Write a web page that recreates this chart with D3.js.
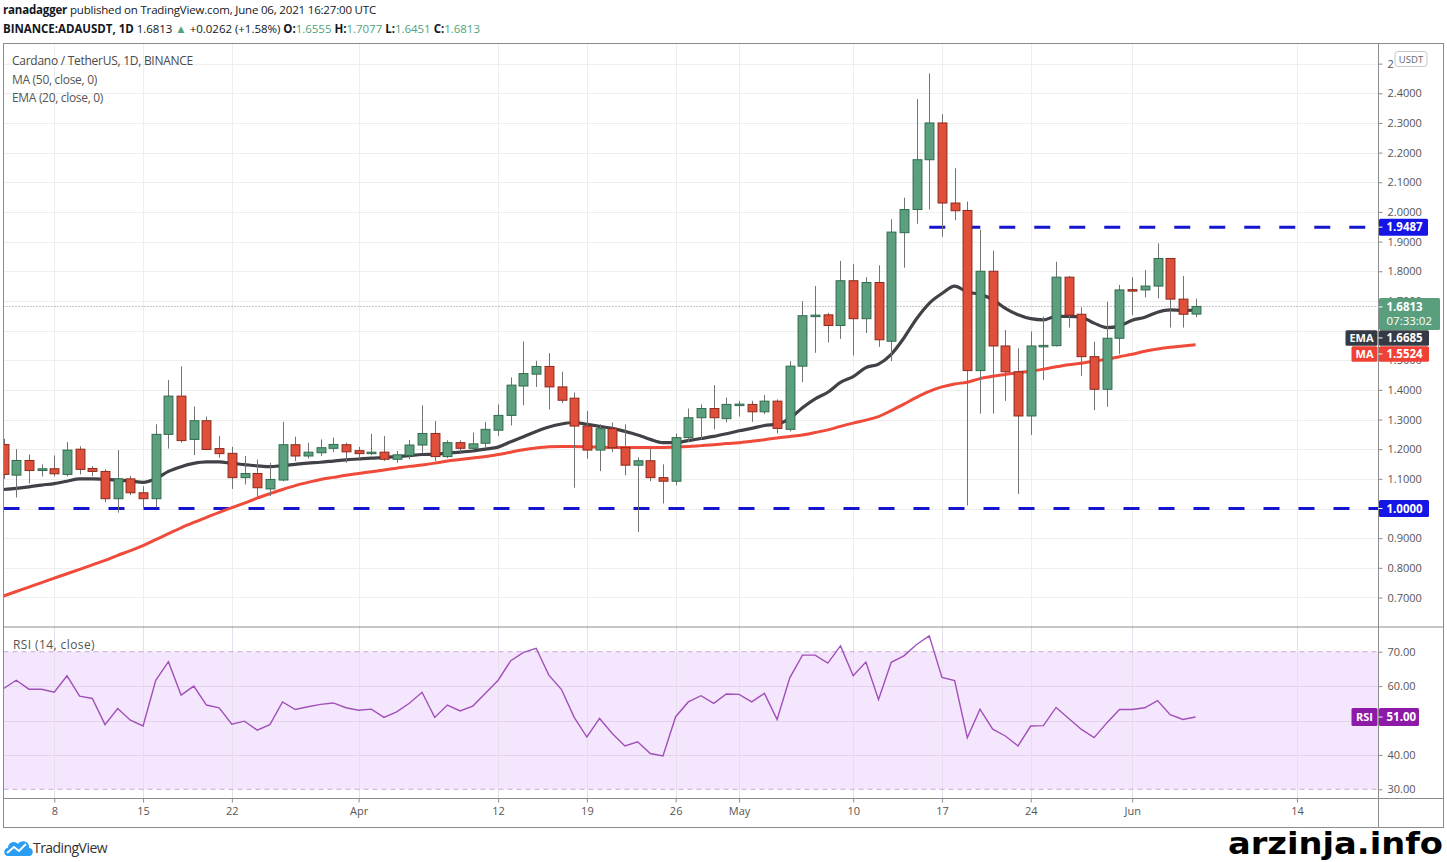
<!DOCTYPE html>
<html><head><meta charset="utf-8">
<script src="https://cdn.jsdelivr.net/npm/d3@7"></script>
<style>
body{margin:0;background:#fff;}
svg{display:block;font-family:"Open Sans","Noto Sans",sans-serif;}
</style>
</head><body>
<svg id="c" width="1447" height="862"></svg>
<script>
// ---------------- DATA ----------------
const firstDay = "2021-03-04";
const openV  = [1.216,1.1125,1.162,1.128,1.134,1.115,1.200,1.135,1.125,1.033,1.100,1.053,1.033,1.25,1.379,1.233,1.296,1.202,1.186,1.104,
                1.118,1.066,1.096,1.215,1.177,1.188,1.203,1.215,1.195,1.185,1.19,1.166,1.179,1.214,1.253,1.175,1.222,1.203,1.22,1.264,
                1.314,1.413,1.453,1.479,1.41,1.372,1.278,1.197,1.269,1.205,1.146,1.161,1.104,1.092,1.239,1.306,1.337,1.303,1.350,1.351,
                1.326,1.362,1.267,1.48,1.648,1.653,1.617,1.768,1.64,1.762,1.564,1.93,2.008,2.176,2.30,2.03,2.005,1.465,1.80,1.548,
                1.461,1.312,1.548,1.549,1.78,1.655,1.512,1.402,1.574,1.738,1.737,1.75,1.843,1.706,1.6555];
const highV  = [1.235,1.20,1.182,1.149,1.179,1.224,1.21,1.143,1.132,1.197,1.11,1.075,1.284,1.433,1.479,1.344,1.31,1.244,1.208,1.177,
                1.165,1.154,1.292,1.242,1.222,1.233,1.239,1.222,1.208,1.252,1.244,1.194,1.231,1.348,1.295,1.23,1.23,1.256,1.292,1.351,
                1.442,1.563,1.498,1.524,1.461,1.391,1.329,1.284,1.29,1.284,1.173,1.202,1.149,1.253,1.337,1.351,1.416,1.374,1.363,1.363,
                1.383,1.368,1.497,1.699,1.75,1.66,1.835,1.825,1.78,1.82,1.975,2.048,2.38,2.467,2.33,2.147,2.035,1.94,1.869,1.602,
                1.54,1.597,1.647,1.832,1.784,1.678,1.562,1.697,1.754,1.78,1.804,1.894,1.843,1.784,1.7077];
const lowV   = [1.10,1.037,1.084,1.108,1.108,1.108,1.115,1.109,1.021,0.986,1.045,1.003,1.003,1.202,1.222,1.18,1.197,1.171,1.066,1.081,
                1.036,1.042,1.092,1.16,1.168,1.177,1.19,1.154,1.168,1.18,1.16,1.154,1.166,1.188,1.16,1.17,1.19,1.197,1.205,1.244,
                1.28,1.348,1.41,1.334,1.355,1.07,1.168,1.126,1.19,1.112,0.921,1.092,1.017,1.078,1.224,1.233,1.267,1.29,1.31,1.292,
                1.318,1.253,1.26,1.426,1.525,1.56,1.572,1.516,1.592,1.545,1.497,1.812,1.96,2.008,1.916,1.972,1.01,1.32,1.32,1.363,
                1.049,1.248,1.433,1.546,1.61,1.447,1.332,1.343,1.52,1.652,1.712,1.709,1.61,1.61,1.6451];
const closeV = [1.115,1.162,1.128,1.134,1.117,1.197,1.132,1.125,1.033,1.100,1.053,1.033,1.25,1.379,1.229,1.296,1.199,1.185,1.104,1.118,
                1.07,1.098,1.215,1.177,1.19,1.205,1.216,1.191,1.185,1.19,1.166,1.181,1.214,1.253,1.175,1.222,1.203,1.218,1.267,1.314,
                1.416,1.455,1.479,1.41,1.365,1.278,1.197,1.269,1.205,1.146,1.161,1.104,1.092,1.239,1.306,1.337,1.306,1.351,1.352,1.326,
                1.362,1.27,1.48,1.65,1.652,1.617,1.768,1.64,1.762,1.569,1.932,2.008,2.176,2.30,2.03,2.004,1.465,1.80,1.548,1.461,
                1.312,1.548,1.550,1.78,1.652,1.512,1.402,1.574,1.737,1.735,1.75,1.843,1.706,1.655,1.6813];
const ema20  = [1.064,1.068,1.073,1.079,1.084,1.092,1.100,1.100,1.098,1.096,1.093,1.088,1.100,1.125,1.141,1.152,1.157,1.157,1.152,1.148,
                1.144,1.141,1.145,1.149,1.153,1.156,1.160,1.164,1.167,1.170,1.172,1.175,1.178,1.182,1.183,1.187,1.190,1.194,1.200,1.207,
                1.225,1.242,1.260,1.275,1.285,1.290,1.284,1.277,1.270,1.260,1.248,1.233,1.222,1.222,1.229,1.236,1.243,1.252,1.262,1.270,
                1.280,1.284,1.304,1.340,1.370,1.392,1.425,1.445,1.475,1.487,1.520,1.575,1.640,1.692,1.725,1.750,1.730,1.722,1.705,1.675,
                1.653,1.640,1.636,1.648,1.648,1.645,1.625,1.610,1.615,1.635,1.645,1.662,1.670,1.668,1.6685];
const ma50   = [0.705,0.720,0.735,0.750,0.765,0.780,0.795,0.810,0.825,0.842,0.858,0.875,0.895,0.915,0.935,0.953,0.970,0.987,1.003,1.018,
                1.035,1.050,1.064,1.077,1.088,1.098,1.105,1.112,1.118,1.124,1.130,1.136,1.142,1.147,1.153,1.160,1.165,1.170,1.175,1.182,
                1.190,1.198,1.204,1.208,1.209,1.209,1.208,1.207,1.206,1.206,1.206,1.206,1.206,1.207,1.209,1.212,1.215,1.219,1.222,1.227,
                1.232,1.238,1.243,1.248,1.256,1.265,1.277,1.288,1.298,1.310,1.330,1.352,1.375,1.395,1.410,1.420,1.426,1.438,1.446,1.452,
                1.458,1.463,1.470,1.478,1.485,1.490,1.497,1.503,1.512,1.520,1.530,1.538,1.544,1.548,1.5524];
const rsi14  = [59.3,61.7,59.1,59.1,58.2,63.0,57.1,56.4,48.8,53.5,50.1,48.4,61.7,67.1,57.4,60.0,54.5,53.7,48.9,49.8,
                47.2,48.8,55.4,53.2,54.0,54.7,55.1,53.7,53.0,53.3,50.9,52.5,55.0,58.2,50.9,54.5,52.8,54.2,57.9,61.7,
                67.4,69.8,71.0,63.2,59.0,50.9,45.2,50.6,46.2,42.6,43.8,40.4,39.7,51.1,55.4,57.2,55.0,57.7,57.6,55.4,
                57.9,50.3,62.4,69.0,69.0,66.7,71.7,63.0,67.0,56.1,66.9,68.8,72.1,74.6,62.5,61.6,45.0,53.3,47.5,45.5,
                42.6,48.4,48.5,53.8,50.6,47.4,45.0,49.3,53.2,53.2,53.7,55.8,51.7,50.3,51.0];
const priceTicks = [0.7,0.8,0.9,1.0,1.1,1.2,1.3,1.4,1.5,1.6,1.7,1.8,1.9,2.0,2.1,2.2,2.3,2.4,2.5];
const priceTickLabels = [0.7,0.8,0.9,1.1,1.2,1.3,1.4,1.5,1.7,1.8,1.9,2.0,2.1,2.2,2.3,2.4,2.5]; // 1.0 / 1.6 hidden behind value boxes
const rsiGrid = [40,50,60];
const rsiTickLabels = [30,40,60,70];
const dateTicks = ["2021-03-08","2021-03-15","2021-03-22","2021-04-01","2021-04-12","2021-04-19","2021-04-26",
                   "2021-05-01","2021-05-10","2021-05-17","2021-05-24","2021-06-01","2021-06-14"];
const dateTickLabels = ["8","15","22","Apr","12","19","26","May","10","17","24","Jun","14"];
const levelLines = [{v:1.0, from:"2021-03-01"},{v:1.9487, from:"2021-05-16"}];
const lastClose = 1.6813, lastEma = 1.6685, lastMa = 1.5524, lastRsi = 51.00;

// ---------------- LAYOUT ----------------
const svg = d3.select("#c");
const L = 3.5, R = 1378.5, OR = 1443.5, T = 43.5, MB = 627, RB = 798.5, OB = 827.5;
const parse = d3.utcParse("%Y-%m-%d");
const t0 = parse(firstDay);
const dates = openV.map((_, i) => d3.utcDay.offset(t0, i));

const x = d3.scaleUtc().domain([parse("2021-03-08"), parse("2021-06-14")]).range([54.3, 1297]);
const y = d3.scaleLinear().domain([1.0, 2.4]).range([508.5, 93.3]);
const yR = d3.scaleLinear().domain([30, 70]).range([789.3, 651.7]);
const step = x(parse("2021-03-09")) - x(parse("2021-03-08"));
const bw = step * 0.7;

function fit(sel, target){
  const n = sel.node(); const len = n.getComputedTextLength(); const c = n.textContent.length;
  if (c > 1) sel.attr("letter-spacing", ((target - len) / c).toFixed(3));
}

const defs = svg.append("defs");
defs.append("clipPath").attr("id","cm").append("rect").attr("x",L).attr("y",T).attr("width",R-L).attr("height",MB-T);
defs.append("clipPath").attr("id","cr").append("rect").attr("x",L).attr("y",MB).attr("width",R-L).attr("height",RB-MB);

// header
const h1 = svg.append("text").attr("x",3).attr("y",14).attr("font-size",11.5).attr("fill","#131722");
h1.append("tspan").attr("font-weight","bold").text("ranadagger");
h1.append("tspan").text(" published on TradingView.com, June 06, 2021 16:27:00 UTC");
fit(h1, 373);
const h2 = svg.append("text").attr("x",3).attr("y",33).attr("font-size",11.5).attr("fill","#131722");
const gC = "#4fa37d";
h2.append("tspan").attr("font-weight","bold").text("BINANCE:ADAUSDT, 1D ");
h2.append("tspan").text("1.6813 ");
h2.append("tspan").attr("fill",gC).text("▲");
h2.append("tspan").text(" +0.0262 (+1.58%) ");
[["O:","1.6555"],["H:","1.7077"],["L:","1.6451"],["C:","1.6813"]].forEach(([k,v],i)=>{
  h2.append("tspan").attr("font-weight","bold").text((i?" ":"")+k);
  h2.append("tspan").attr("fill",gC).text(v);
});
fit(h2, 477);

// grid main
const gm = svg.append("g").attr("clip-path","url(#cm)");
gm.selectAll("line.hg").data(priceTicks).join("line")
  .attr("x1",L).attr("x2",R).attr("y1",d=>Math.round(y(d))+0.5).attr("y2",d=>Math.round(y(d))+0.5)
  .attr("stroke","#eeeeee");
gm.selectAll("line.vg").data(dateTicks).join("line")
  .attr("x1",d=>Math.round(x(parse(d)))+0.5).attr("x2",d=>Math.round(x(parse(d)))+0.5)
  .attr("y1",T).attr("y2",MB).attr("stroke","#eeeeee");

// RSI pane band and grid
const gr = svg.append("g").attr("clip-path","url(#cr)");
gr.append("rect").attr("x",L).attr("width",R-L).attr("y",yR(70)).attr("height",yR(30)-yR(70)).attr("fill","#f4e6fc");
gr.selectAll("line.rh").data(rsiGrid).join("line")
  .attr("x1",L).attr("x2",R).attr("y1",d=>Math.round(yR(d))+0.5).attr("y2",d=>Math.round(yR(d))+0.5)
  .attr("stroke","#e2d3ea");
gr.selectAll("line.rv").data(dateTicks).join("line")
  .attr("x1",d=>Math.round(x(parse(d)))+0.5).attr("x2",d=>Math.round(x(parse(d)))+0.5)
  .attr("y1",MB).attr("y2",RB).attr("stroke","#e6deec");
gr.selectAll("line.rb").data([30,70]).join("line")
  .attr("x1",L).attr("x2",R).attr("y1",d=>yR(d)).attr("y2",d=>yR(d))
  .attr("stroke","#c9aad6").attr("stroke-dasharray","5,4");

// level lines
gm.selectAll("line.lv").data(levelLines).join("line")
  .attr("x1",d=>Math.max(L,x(parse(d.from)))).attr("x2",R)
  .attr("y1",d=>y(d.v)).attr("y2",d=>y(d.v))
  .attr("stroke","#1515d0").attr("stroke-width",3).attr("stroke-dasharray","16,19");

// close dotted line
gm.append("line").attr("x1",L).attr("x2",R).attr("y1",y(lastClose)).attr("y2",y(lastClose))
  .attr("stroke","#8a8a8a").attr("stroke-dasharray","1,2");

// MA and EMA lines
const lineGen = arr => d3.line().x((d,i)=>x(dates[i])).y(d=>y(d)).curve(d3.curveMonotoneX)(arr);
gm.append("path").attr("d",lineGen(ma50)).attr("fill","none").attr("stroke","#ef4a3a").attr("stroke-width",3);
gm.append("path").attr("d",lineGen(ema20)).attr("fill","none").attr("stroke","#404248").attr("stroke-width",3.2);

// candles
const cd = dates.map((d,i)=>({d,o:openV[i],h:highV[i],l:lowV[i],c:closeV[i]}));
const cg = gm.append("g");
cg.selectAll("line.wk").data(cd).join("line")
  .attr("x1",d=>Math.round(x(d.d))+0.5).attr("x2",d=>Math.round(x(d.d))+0.5)
  .attr("y1",d=>y(d.h)).attr("y2",d=>y(d.l)).attr("stroke","#737373").attr("stroke-width",1);
cg.selectAll("rect.bd").data(cd).join("rect")
  .attr("x",d=>Math.round(x(d.d))+0.5-bw/2).attr("width",bw)
  .attr("y",d=>Math.min(y(d.o),y(d.c)))
  .attr("height",d=>Math.max(1.5,Math.abs(y(d.o)-y(d.c))))
  .attr("fill",d=>d.c>=d.o?"#5c9f7e":"#df4f3a")
  .attr("stroke",d=>d.c>=d.o?"#2f6b4c":"#8c2a1c").attr("stroke-width",1);

// RSI line
gr.append("path").attr("d",d3.line().x((d,i)=>x(dates[i])).y(d=>yR(d))(rsi14))
  .attr("fill","none").attr("stroke","#a250b9").attr("stroke-width",1.4);

// frame
const fr = svg.append("g").attr("stroke","#8c8c8c").attr("fill","none");
fr.append("rect").attr("x",L).attr("y",T).attr("width",OR-L).attr("height",OB-T);
fr.append("line").attr("x1",R).attr("x2",R).attr("y1",T).attr("y2",OB);
fr.append("line").attr("x1",L).attr("x2",OR).attr("y1",MB).attr("y2",MB);
fr.append("line").attr("x1",L).attr("x2",OR).attr("y1",RB).attr("y2",RB);

// axes
const styleAxis = g => { g.select(".domain").remove(); g.selectAll(".tick line").attr("stroke","#8c8c8c");
  g.selectAll("text").attr("fill","#555").attr("font-size",11).attr("font-family","'Open Sans','Noto Sans',sans-serif"); };
const yAxisG = svg.append("g").attr("transform",`translate(${R},0)`)
  .call(d3.axisRight(y).tickValues(priceTickLabels).tickFormat(d3.format(".4f")).tickSize(4).tickPadding(5))
  .call(styleAxis);
// top label only partly visible (behind the currency tag)
yAxisG.selectAll(".tick").filter(d=>d===2.5).select("text").text("2");
svg.append("g").attr("transform",`translate(${R},0)`)
  .call(d3.axisRight(yR).tickValues(rsiTickLabels).tickFormat(d3.format(".2f")).tickSize(4).tickPadding(5))
  .call(styleAxis);
svg.append("g").attr("transform",`translate(0,${RB})`)
  .call(d3.axisBottom(x).tickValues(dateTicks.map(parse)).tickFormat((d,i)=>dateTickLabels[i]).tickSize(4).tickPadding(5))
  .call(styleAxis);

// USDT tag
svg.append("rect").attr("x",1395).attr("y",51.5).attr("width",32).attr("height",15).attr("rx",3)
  .attr("fill","#fff").attr("stroke","#c8c8c8");
svg.append("text").attr("x",1411).attr("y",62.5).attr("text-anchor","middle").attr("font-size",9.5)
  .attr("fill","#666").text("USDT");

// value labels on the price axis
function valBox(yc, h, w, fill, lines){
  svg.append("rect").attr("x",R+0.5).attr("y",yc-h/2).attr("width",w).attr("height",h).attr("fill",fill).attr("rx",1.5);
  const ty = yc - (lines.length>1?7:0);
  svg.append("line").attr("x1",R).attr("x2",R+4).attr("y1",ty).attr("y2",ty).attr("stroke","#fff");
  lines.forEach((t,i)=>{
    svg.append("text").attr("x",R+8).attr("y",yc - (lines.length-1)*7 + i*14 + 4).attr("font-size",11.5)
      .attr("font-weight", i===0 ? "bold" : "normal").attr("fill","#fff").text(t);
  });
}
function tag(yc, h, w, fill, t){
  svg.append("rect").attr("x",R-1-w).attr("y",yc-h/2).attr("width",w).attr("height",h).attr("fill",fill).attr("rx",1.5);
  svg.append("text").attr("x",R-1-w/2).attr("y",yc+4).attr("text-anchor","middle").attr("font-size",11)
    .attr("font-weight","bold").attr("fill","#fff").text(t);
}
valBox(y(1.9487), 17, 49, "#1515e6", ["1.9487"]);
valBox(y(1.0), 17, 50, "#1515e6", ["1.0000"]);
// stacked labels: close, EMA, MA
const closeTop = y(lastClose) - 8.5, closeH = 32;
valBox(closeTop + closeH/2, closeH, 61, "#5a9f7d", ["1.6813","07:33:02"]);
const emaC = Math.max(y(lastEma), closeTop + closeH + 8);
valBox(emaC, 15.5, 50, "#363a45", ["1.6685"]);
tag(emaC, 15.5, 32, "#363a45", "EMA");
const maC = Math.max(y(lastMa), emaC + 16);
valBox(maC, 15.5, 50, "#ef4136", ["1.5524"]);
tag(maC, 15.5, 26, "#ef4136", "MA");
// RSI
valBox(yR(lastRsi), 18, 40, "#8e1aa8", ["51.00"]);
tag(yR(lastRsi), 18, 26, "#8e1aa8", "RSI");

// legends
const lg = svg.append("g").attr("font-size",12).attr("fill","#555");
fit(lg.append("text").attr("x",12).attr("y",65).attr("fill","#4a4a4a").text("Cardano / TetherUS, 1D, BINANCE"), 181);
fit(lg.append("text").attr("x",12).attr("y",83.5).text("MA (50, close, 0)"), 85);
fit(lg.append("text").attr("x",12).attr("y",102).text("EMA (20, close, 0)"), 91);
fit(svg.append("text").attr("x",13).attr("y",648.5).attr("font-size",12).attr("fill","#555").text("RSI (14, close)"), 82);

// TradingView logo
const lgo = svg.append("g").attr("transform","translate(4,838)");
lgo.append("path").attr("d","M4,18 C-1,18 -1,10 4,10 C4,4 11,2 14,6 C17,1 26,3 25,10 C30,10 30,18 25,18 Z").attr("fill","#2a9df4");
lgo.append("path").attr("d","M3,15 L10,9 L15,13 L22,6").attr("fill","none").attr("stroke","#fff").attr("stroke-width",2);
fit(svg.append("text").attr("x",33).attr("y",853).attr("font-size",14).attr("fill","#333").text("TradingView"), 74);

// watermark
svg.append("text").attr("x",1228).attr("y",854).attr("font-size",30).attr("font-weight","bold")
  .attr("font-family","'DejaVu Sans',sans-serif").attr("fill","#000")
  .attr("textLength",215).attr("lengthAdjust","spacingAndGlyphs").text("arzinja.info");
</script>
</body></html>
